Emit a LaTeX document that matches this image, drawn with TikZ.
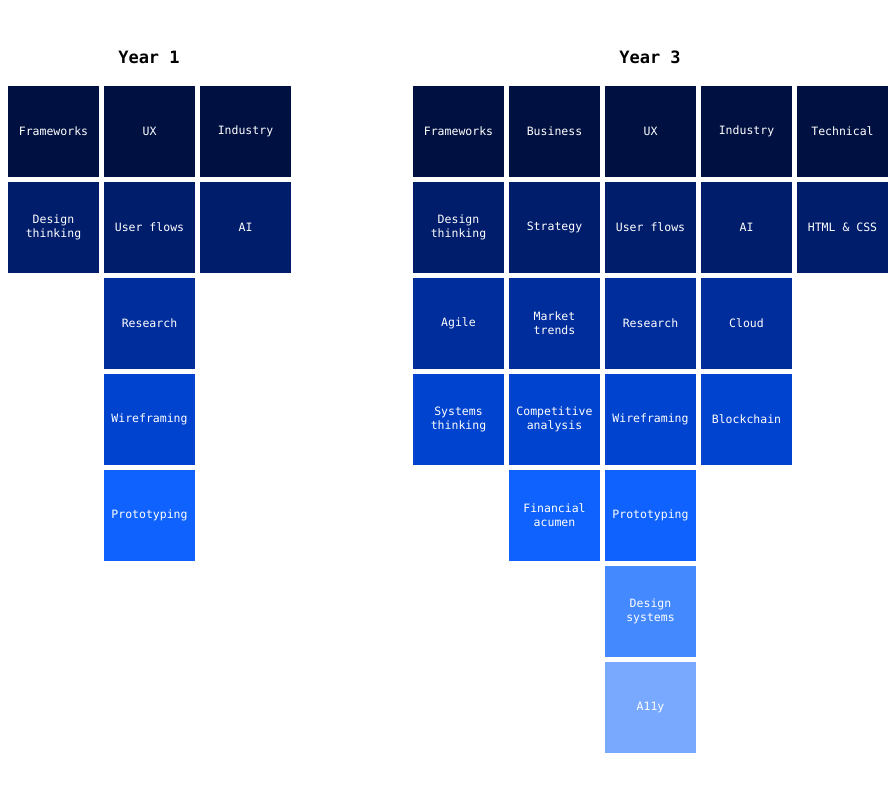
\documentclass[tikz,border=0pt]{standalone}
\usepackage{fontspec}
\setmonofont{DejaVu Sans Mono}
\definecolor{c1}{HTML}{001141}
\definecolor{c2}{HTML}{001D6C}
\definecolor{c3}{HTML}{002D9C}
\definecolor{c4}{HTML}{0043CE}
\definecolor{c5}{HTML}{0F62FE}
\definecolor{c6}{HTML}{4589FF}
\definecolor{c7}{HTML}{78A9FF}
\tikzset{cell/.style={fill=#1,text=white,minimum width=91pt,minimum height=91pt,inner sep=0pt,align=center,font=\ttfamily\fontsize{11.5}{14}\selectfont},
title/.style={font=\ttfamily\bfseries\fontsize{17}{20}\selectfont}}
\newcommand{\cellat}[5]{\node[cell=#4] (#1) at (#2pt,-#3pt) {#5};}
\begin{document}
\begin{tikzpicture}[x=1pt,y=1pt]
\useasboundingbox (0,0) rectangle (895,-804);
\node[title] (t1) at (149,-57) {Year 1};
\node[title] (t3) at (650,-57) {Year 3};
% Year 1
\cellat{a11}{53.5}{131}{c1}{Frameworks}
\cellat{a12}{149.5}{131}{c1}{UX}
\cellat{a13}{245.5}{131}{c1}{Industry}
\cellat{a21}{53.5}{227}{c2}{Design\\thinking}
\cellat{a22}{149.5}{227}{c2}{User flows}
\cellat{a23}{245.5}{227}{c2}{AI}
\cellat{a32}{149.5}{323}{c3}{Research}
\cellat{a42}{149.5}{419}{c4}{Wireframing}
\cellat{a52}{149.5}{515}{c5}{Prototyping}
% Year 3
\cellat{b11}{458.5}{131}{c1}{Frameworks}
\cellat{b12}{554.5}{131}{c1}{Business}
\cellat{b13}{650.5}{131}{c1}{UX}
\cellat{b14}{746.5}{131}{c1}{Industry}
\cellat{b15}{842.5}{131}{c1}{Technical}
\cellat{b21}{458.5}{227}{c2}{Design\\thinking}
\cellat{b22}{554.5}{227}{c2}{Strategy}
\cellat{b23}{650.5}{227}{c2}{User flows}
\cellat{b24}{746.5}{227}{c2}{AI}
\cellat{b25}{842.5}{227}{c2}{HTML \& CSS}
\cellat{b31}{458.5}{323}{c3}{Agile}
\cellat{b32}{554.5}{323}{c3}{Market\\trends}
\cellat{b33}{650.5}{323}{c3}{Research}
\cellat{b34}{746.5}{323}{c3}{Cloud}
\cellat{b41}{458.5}{419}{c4}{Systems\\thinking}
\cellat{b42}{554.5}{419}{c4}{Competitive\\analysis}
\cellat{b43}{650.5}{419}{c4}{Wireframing}
\cellat{b44}{746.5}{419}{c4}{Blockchain}
\cellat{b52}{554.5}{515}{c5}{Financial\\acumen}
\cellat{b53}{650.5}{515}{c5}{Prototyping}
\cellat{b63}{650.5}{611}{c6}{Design\\systems}
\cellat{b73}{650.5}{707}{c7}{A11y}
\end{tikzpicture}
\end{document}
